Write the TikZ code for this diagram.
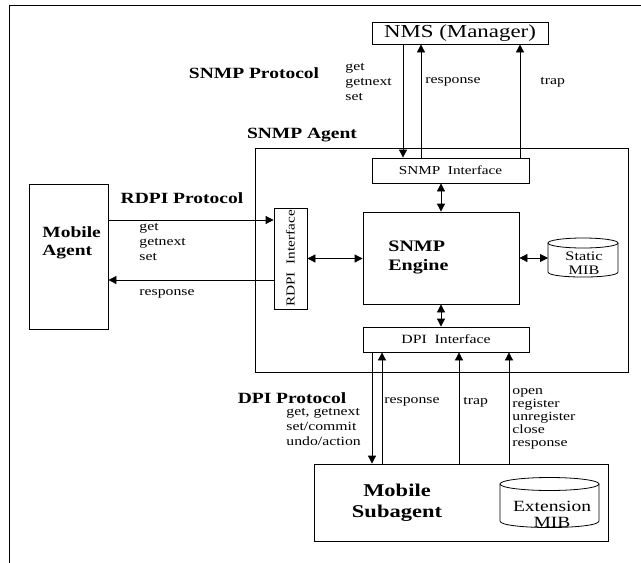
\documentclass[tikz,border=0pt]{standalone}
\usepackage{fontspec}
\setmainfont{Liberation Serif}[FakeStretch=1.25]
\usetikzlibrary{arrows.meta}
\usetikzlibrary{calc}

\begin{document}
\begin{tikzpicture}[x=1pt,y=-1pt,line width=0.8pt,
  box/.style={draw, inner sep=0pt},
  arr/.style={-{Triangle[width=8pt,length=8pt]}},
  darr/.style={{Triangle[width=8pt,length=8pt]}-{Triangle[width=8pt,length=8pt]}},
  lbl/.style={inner sep=0pt, align=left, anchor=west, font=\fontsize{12.6}{15}\selectfont},
  hdr/.style={inner sep=0pt, align=center, font=\fontsize{15.6}{18}\selectfont\bfseries}]
\useasboundingbox (0,0) rectangle (641,563);

% frame
\draw (9,563) -- (9,5) -- (641,5);

% manager
\node [box, minimum width=176, minimum height=22, font=\fontsize{18.3}{20}\selectfont] (nms) at (460,33) {NMS (Manager)};

% agent
\node [box, minimum width=373, minimum height=224] (agent) at (441.5,260) {};
\node [hdr] (agentlbl) at (302,135) {SNMP Agent};
\node [box, minimum width=157, minimum height=25, font=\fontsize{12.2}{14}\selectfont] (snmpif) at (450.5,170.5) {SNMP\ \ Interface};
\node [box, minimum width=156, minimum height=92] (engine) at (441,258) {};
\node [inner sep=0pt, align=left, anchor=west, font=\fontsize{16}{19}\selectfont\bfseries] (enginelbl) at (388,257) {SNMP\\Engine};
\node [box, minimum width=166, minimum height=25, font=\fontsize{12.6}{14}\selectfont] (dpiif) at (446,339.5) {DPI\ \ Interface};
\node [box, minimum width=33, minimum height=101, font=\fontsize{12.2}{14}\selectfont] (rdpi) at (290.5,258.5) {\rotatebox{90}{RDPI\ \ Interface}};

% static mib
\draw (548,243) -- (548,272) .. controls (548,278.7) and (618,278.7) .. (618,272) -- (618,243);
\draw (583,243) ellipse [x radius=35, y radius=5];
\node [inner sep=0pt, align=center, font=\fontsize{13}{14}\selectfont] (smib) at (584,263) {Static\\MIB};
\coordinate (smibw) at (548,258);

% mobile agent
\node [box, minimum width=79, minimum height=145] (magent) at (68.5,256.5) {};
\node [hdr, align=left, anchor=west] (magentlbl) at (42,243) {Mobile\\Agent};

% subagent
\node [box, minimum width=294, minimum height=77] (subag) at (461,502.5) {};
\node [inner sep=0pt, align=center, font=\fontsize{18}{21}\selectfont\bfseries] (subaglbl) at (397,503) {Mobile\\Subagent};
\draw (500,484) -- (500,521) .. controls (500,529.7) and (599,529.7) .. (599,521) -- (599,484);
\draw (549.5,484) ellipse [x radius=49.5, y radius=6.5];
\node [inner sep=0pt, align=center, font=\fontsize{15.6}{16}\selectfont] (emib) at (552,514) {Extension\\MIB};

% snmp protocol
\coordinate (xget) at (403,0);
\coordinate (xresp) at (421,0);
\coordinate (xtrap) at (520,0);
\draw [arr] (nms.south -| xget) -- (snmpif.north -| xget);
\draw [arr] (snmpif.north -| xresp) -- (nms.south -| xresp);
\draw [arr] (snmpif.north -| xtrap) -- (nms.south -| xtrap);
\node [hdr] (snmpprot) at (254,73) {SNMP Protocol};
\node [lbl] (snmpget) at (345,82) {get\\getnext\\set};
\node [lbl] (snmpresp) at (425,82) {response};
\node [lbl] (snmptrap) at (540,82) {trap};

% inside agent
\draw [darr] (snmpif.south -| engine.north) -- (engine.north);
\draw [darr] (engine.south) -- (dpiif.north -| engine.south);
\draw [darr] (rdpi.east) -- (rdpi.east -| engine.west);
\draw [darr] (engine.east) -- (smibw);

% rdpi protocol
\coordinate (yget) at (0,220);
\coordinate (yresp) at (0,280);
\draw [arr] (magent.east |- yget) -- (rdpi.west |- yget);
\draw [arr] (rdpi.west |- yresp) -- (magent.east |- yresp);
\node [hdr] (rdpiprot) at (182,198) {RDPI Protocol};
\node [lbl] (rdpiget) at (139,242) {get\\getnext\\set};
\node [lbl] (rdpiresp) at (139,294) {response};

% dpi protocol
\coordinate (xdget) at (372,0);
\coordinate (xdresp) at (382,0);
\coordinate (xdtrap) at (459,0);
\coordinate (xdopen) at (509,0);
\draw [arr] (dpiif.south -| xdget) -- (subag.north -| xdget);
\draw [arr] (subag.north -| xdresp) -- (dpiif.south -| xdresp);
\draw [arr] (subag.north -| xdtrap) -- (dpiif.south -| xdtrap);
\draw [arr] (subag.north -| xdopen) -- (dpiif.south -| xdopen);
\node [hdr] (dpiprot) at (292,398) {DPI Protocol};
\node [lbl] (dpiget) at (286,427) {get, getnext\\set/commit\\undo/action};
\node [lbl] (dpiresp) at (384,402) {response};
\node [lbl] (dpitrap) at (463,402) {trap};
\node [lbl, font=\fontsize{12.6}{13}\selectfont] (dpiopen) at (512,419) {open\\register\\unregister\\close\\response};

\end{tikzpicture}
\end{document}
